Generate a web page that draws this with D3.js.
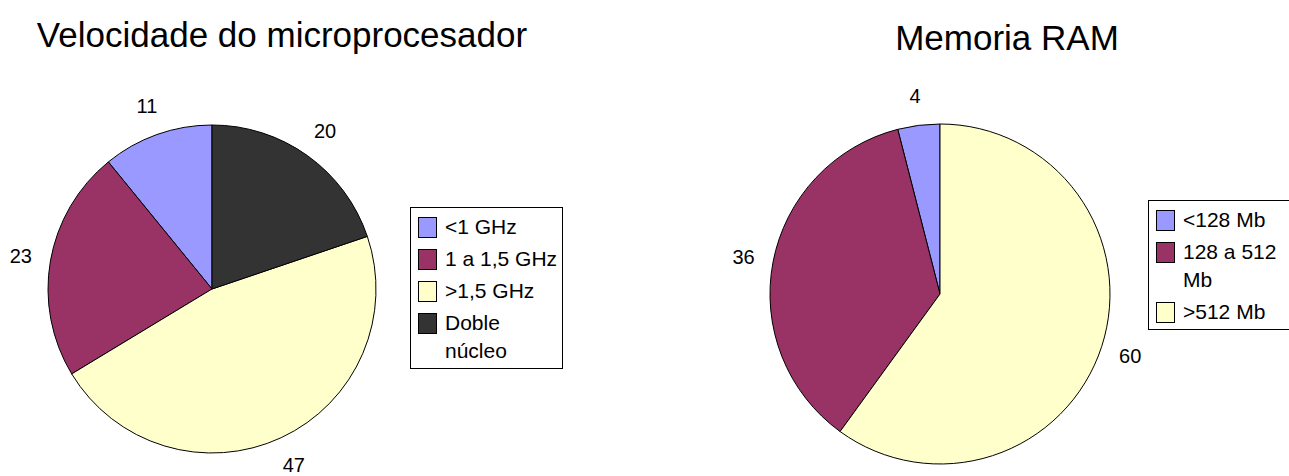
<!DOCTYPE html>
<html>
<head>
<meta charset="utf-8">
<script src="https://cdn.jsdelivr.net/npm/d3@7"></script>
<style>
  body { margin: 0; background: #fff; }
  svg { display: block; font-family: "Liberation Sans", Arial, sans-serif; }
</style>
</head>
<body>
<div id="chart"></div>
<script>
const cpuTitle = "Velocidade do microprocesador";
const cpuCategories = ["<1 GHz", "1 a 1,5 GHz", ">1,5 GHz", "Doble núcleo"];
const cpuValues = [11, 23, 47, 20];

const ramTitle = "Memoria RAM";
const ramCategories = ["<128 Mb", "128 a 512 Mb", ">512 Mb"];
const ramValues = [4, 36, 60];

const sliceColors = ["#9999FF", "#993366", "#FFFFCC", "#333333"];

const width = 1289, height = 476;

const svg = d3.select("#chart")
  .append("svg")
  .attr("width", width)
  .attr("height", height);

// crude word wrap using a hidden measuring text
const measure = svg.append("text").attr("visibility", "hidden");
function wrap(str, maxW, size) {
  measure.attr("font-size", size);
  const words = str.split(" ");
  const lines = [];
  let cur = "";
  words.forEach(w => {
    const test = cur ? cur + " " + w : w;
    measure.text(test);
    if (measure.node().getComputedTextLength() > maxW && cur) {
      lines.push(cur);
      cur = w;
    } else {
      cur = test;
    }
  });
  if (cur) lines.push(cur);
  return lines;
}

// one pie + legend, slices run counter-clockwise from 12 o'clock
function drawPie(cfg) {
  const g = svg.append("g");

  g.append("text")
    .attr("x", cfg.titleX)
    .attr("y", cfg.titleY)
    .attr("text-anchor", "middle")
    .attr("font-size", 35)
    .text(cfg.title);

  const data = cfg.categories.map((c, i) => ({ name: c, value: cfg.values[i], color: sliceColors[i] }));

  const pie = d3.pie()
    .sort(null)
    .value(d => d.value)
    .startAngle(0)
    .endAngle(-2 * Math.PI);

  const arc = d3.arc().innerRadius(0).outerRadius(cfg.r);
  const arcs = pie(data);

  const pg = g.append("g").attr("transform", `translate(${cfg.cx},${cfg.cy})`);

  pg.selectAll("path")
    .data(arcs)
    .enter().append("path")
    .attr("d", arc)
    .attr("fill", d => d.data.color)
    .attr("stroke", "#000")
    .attr("stroke-width", 1);

  const labelR = cfg.r + 30;
  pg.selectAll("text")
    .data(arcs)
    .enter().append("text")
    .attr("x", d => labelR * Math.sin((d.startAngle + d.endAngle) / 2))
    .attr("y", d => -labelR * Math.cos((d.startAngle + d.endAngle) / 2))
    .attr("text-anchor", "middle")
    .attr("dominant-baseline", "central")
    .attr("font-size", 20)
    .text(d => d.data.value);

  // legend
  const lg = g.append("g").attr("transform", `translate(${cfg.legendX},${cfg.legendY})`);
  const box = lg.append("rect")
    .attr("fill", "#fff")
    .attr("stroke", "#000")
    .attr("stroke-width", 1);

  let y = 10;
  const lineH = 28;
  data.forEach(d => {
    lg.append("rect")
      .attr("x", 8.5)
      .attr("y", y + 0.5)
      .attr("width", 18)
      .attr("height", 20)
      .attr("fill", d.color)
      .attr("stroke", "#000")
      .attr("stroke-width", 1);

    const lines = wrap(d.name, cfg.legendTextWidth, 21);
    const t = lg.append("text")
      .attr("font-size", 21)
      .attr("x", 35)
      .attr("y", y + 17);
    lines.forEach((ln, k) => {
      t.append("tspan").attr("x", 35).attr("dy", k === 0 ? 0 : lineH).text(ln);
    });
    y += 32 + (lines.length - 1) * lineH;
  });

  box.attr("x", 0.5).attr("y", 0.5)
    .attr("width", cfg.legendW)
    .attr("height", y - 5);
}

drawPie({
  title: cpuTitle, titleX: 282, titleY: 47,
  categories: cpuCategories, values: cpuValues,
  cx: 212, cy: 289, r: 164,
  legendX: 410, legendY: 207, legendW: 152, legendTextWidth: 116
});

drawPie({
  title: ramTitle, titleX: 1007, titleY: 50,
  categories: ramCategories, values: ramValues,
  cx: 940, cy: 294, r: 170,
  legendX: 1148, legendY: 200, legendW: 160, legendTextWidth: 100
});
</script>
</body>
</html>
